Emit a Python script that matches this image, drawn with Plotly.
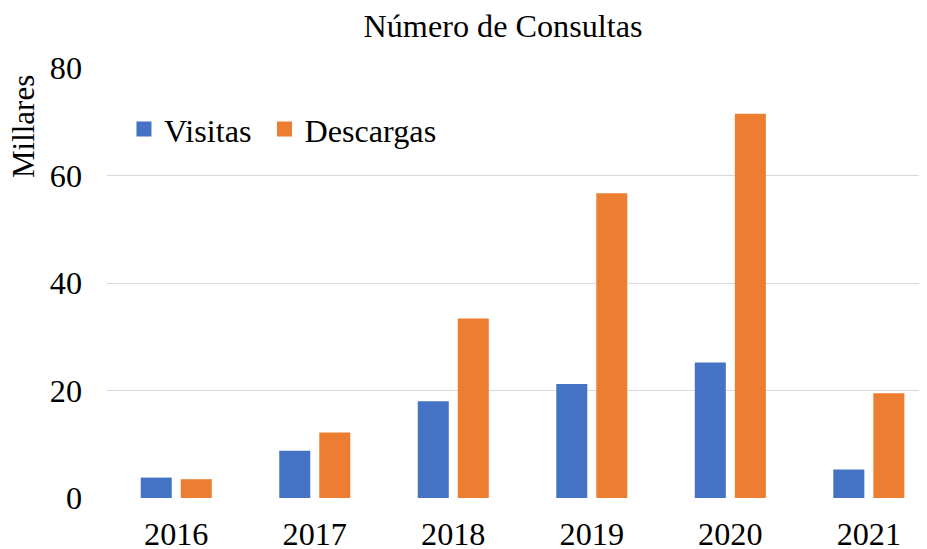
import plotly.graph_objects as go

years = ["2016", "2017", "2018", "2019", "2020", "2021"]
visitas = [3.8, 8.8, 18.0, 21.2, 25.2, 5.3]
descargas = [3.5, 12.2, 33.4, 56.7, 71.5, 19.5]
y_ticks = [0, 20, 40, 60, 80]
series_names = ["Visitas", "Descargas"]
colors = ["#4472C4", "#ED7D31"]

FONT = "Liberation Serif"
FS = 32.2
W, H = 927, 549
L, R, T, B = 99, 8, 60, 59.3
PW, PH = W - L - R, H - T - B

fig = go.Figure()
for name, vals, col in zip(series_names, [visitas, descargas], colors):
    fig.add_trace(go.Bar(name=name, x=years, y=vals, marker_color=col,
                         marker_line_width=0, showlegend=False, legendgroup=name))
# legend entries with larger square swatches
for i, (name, col) in enumerate(zip(series_names, colors)):
    label = name + ("\u00a0" if i == 0 else "")
    fig.add_trace(go.Scatter(name=label, x=[None], y=[None], mode="markers",
                             marker=dict(symbol="square", size=15, color=col),
                             legendgroup=name, showlegend=True))

fig.update_layout(
    width=W, height=H,
    margin=dict(l=L, r=R, t=T, b=B, pad=0, autoexpand=False),
    paper_bgcolor="white", plot_bgcolor="white",
    font=dict(family=FONT, size=FS, color="#000000"),
    barmode="group", bargap=0.422, bargroupgap=0.225,
    title=dict(text="Número de Consultas", x=495 / W, xanchor="center", xref="container",
               y=1 - 18 / H, yanchor="middle", yref="container", automargin=False,
               font=dict(family=FONT, size=FS, color="#000000")),
    showlegend=True,
    legend=dict(orientation="h", x=(22.96 - 12 + 6) / PW, y=(H - B - 121) / PH,
                xanchor="left", yanchor="middle", bgcolor="rgba(0,0,0,0)",
                font=dict(family=FONT, size=FS, color="#000000"),
                itemwidth=30, tracegroupgap=0),
    xaxis=dict(range=[-0.5, 5.42], showgrid=False, showline=False, zeroline=False,
               ticks="", automargin=False,
               tickfont=dict(family=FONT, size=FS, color="#000000"), ticklabelstandoff=14),
    yaxis=dict(range=[0, 80], tickvals=y_ticks, showgrid=True, gridcolor="#D9D9D9",
               gridwidth=1.3, zeroline=False, showline=False, ticks="", automargin=False,
               tickfont=dict(family=FONT, size=FS, color="#000000"), ticklabelstandoff=24),
)

fig.add_annotation(text="Millares", textangle=-90, xref="paper", yref="paper",
                   x=(15 - L) / PW, y=(H - B - 119) / PH,
                   xanchor="center", yanchor="middle", showarrow=False,
                   font=dict(family=FONT, size=31, color="#000000"))

fig.write_html("out.html")
